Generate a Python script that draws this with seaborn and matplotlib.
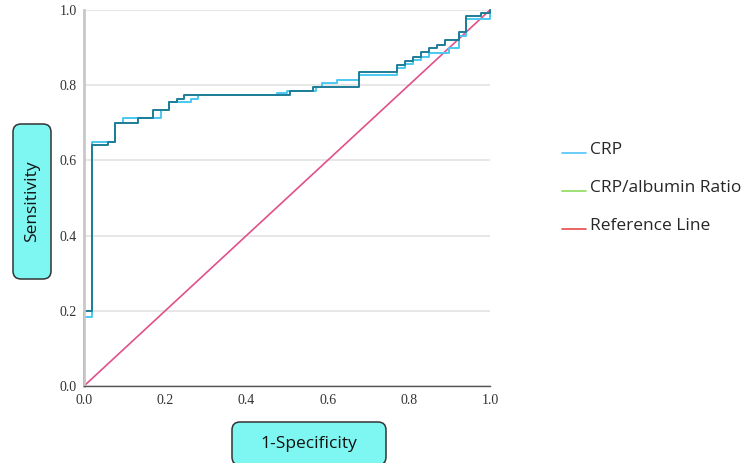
import matplotlib
matplotlib.use('Agg')
import matplotlib.pyplot as plt
import seaborn as sns
import pandas as pd
from matplotlib.lines import Line2D
from matplotlib.patches import FancyBboxPatch
from matplotlib.legend_handler import HandlerLine2D

# ROC points (1-specificity, sensitivity)
crp_fpr = [0, 0, 0.02, 0.076, 0.095, 0.189, 0.209, 0.264, 0.282, 0.475, 0.50, 0.571,
           0.586, 0.622, 0.678, 0.772, 0.791, 0.811, 0.829, 0.850, 0.90, 0.923, 0.942, 1.0, 1.0]
crp_tpr = [0, 0.184, 0.648, 0.70, 0.713, 0.734, 0.754, 0.764, 0.774, 0.78, 0.785, 0.796,
           0.805, 0.815, 0.827, 0.845, 0.856, 0.867, 0.876, 0.885, 0.898, 0.93, 0.977, 0.987, 1.0]

car_fpr = [0, 0, 0.02, 0.058, 0.076, 0.134, 0.171, 0.209, 0.228, 0.246, 0.507, 0.565,
           0.678, 0.772, 0.791, 0.811, 0.829, 0.850, 0.869, 0.889, 0.923, 0.942, 0.979, 1.0]
car_tpr = [0, 0.2, 0.64, 0.65, 0.70, 0.713, 0.734, 0.754, 0.764, 0.774, 0.785, 0.796,
           0.836, 0.853, 0.864, 0.876, 0.887, 0.90, 0.908, 0.92, 0.942, 0.984, 0.993, 1.0]

ref_x = [0, 1]
ref_y = [0, 1]

ticks = [0.0, 0.2, 0.4, 0.6, 0.8, 1.0]
tick_labels = ['0.0', '0.2', '0.4', '0.6', '0.8', '1.0']
legend_labels = ['CRP', 'CRP/albumin Ratio', 'Reference Line']

sns.set_theme(style='white')
plt.rcParams['font.family'] = ['Open Sans', 'DejaVu Sans']

fig = plt.figure(figsize=(7.55, 4.63), dpi=100)
ax = fig.add_axes([84 / 755, 77 / 463, 406 / 755, 376 / 463])

crp = pd.DataFrame({'fpr': crp_fpr, 'tpr': crp_tpr})
car = pd.DataFrame({'fpr': car_fpr, 'tpr': car_tpr})
ref = pd.DataFrame({'fpr': ref_x, 'tpr': ref_y})

sns.lineplot(data=ref, x='fpr', y='tpr', ax=ax, color='#e2508a', lw=1.2,
             sort=False, estimator=None, clip_on=False)
sns.lineplot(data=crp, x='fpr', y='tpr', ax=ax, color='#4cc8f0', lw=1.4,
             sort=False, estimator=None, drawstyle='steps-post', clip_on=False)
sns.lineplot(data=car, x='fpr', y='tpr', ax=ax, color='#1d7d96', lw=1.4,
             sort=False, estimator=None, drawstyle='steps-post', clip_on=False)

ax.set_xlim(0, 1)
ax.set_ylim(0, 1)
ax.set_xticks(ticks)
ax.set_yticks(ticks)
ax.set_xticklabels(tick_labels, family='Liberation Serif', fontsize=10, color='#333333')
ax.set_yticklabels(tick_labels, family='Liberation Serif', fontsize=10, color='#333333')
ax.tick_params(axis='both', length=0)
ax.tick_params(axis='x', pad=6)
ax.tick_params(axis='y', pad=5)
ax.yaxis.grid(True, color='#e3e3e3', lw=1.2)
ax.xaxis.grid(False)
ax.set_axisbelow(True)
ax.set_xlabel('')
ax.set_ylabel('')
for side in ['top', 'right']:
    ax.spines[side].set_visible(False)
ax.spines['left'].set_color('#c8c8c8')
ax.spines['left'].set_linewidth(2)
ax.spines['bottom'].set_color('#555555')
ax.spines['bottom'].set_linewidth(1)


def label_box(x, y, w, h, text, rotation=0):
    # rounded cyan box placed in pixel units
    bax = fig.add_axes([x / 755, (463 - y - h) / 463, w / 755, h / 463])
    bax.set_xlim(0, w)
    bax.set_ylim(0, h)
    bax.axis('off')
    bax.add_patch(FancyBboxPatch((1, 1), w - 2, h - 2,
                                 boxstyle='round,pad=0,rounding_size=8',
                                 facecolor='#7ef6f1', edgecolor='#333333', lw=1.1,
                                 clip_on=False))
    bax.text(w / 2, h / 2, text, ha='center', va='center', rotation=rotation,
             fontsize=12.5, color='#111111')


label_box(12, 123, 40, 157, 'Sensitivity', rotation=90)
label_box(231, 421, 156, 45, '1-Specificity')


class BaselineHandler(HandlerLine2D):
    # put the legend line at the text baseline, like an underscore
    def create_artists(self, legend, orig_handle, xdescent, ydescent,
                       width, height, fontsize, trans):
        arts = super().create_artists(legend, orig_handle, xdescent, ydescent,
                                      width, height, fontsize, trans)
        for a in arts:
            a.set_ydata([v - height * 0.42 for v in a.get_ydata()])
        return arts


handles = [Line2D([], [], color='#4fc3f7', lw=1.2),
           Line2D([], [], color='#8edc5c', lw=1.2),
           Line2D([], [], color='#e84a4a', lw=1.2)]
fig.legend(handles, legend_labels, loc='upper left', bbox_to_anchor=(562 / 755, 1 - 142 / 463),
           frameon=False, fontsize=12.5, handlelength=1.4, handletextpad=0.2,
           labelspacing=1.25, borderpad=0, borderaxespad=0,
           handler_map={Line2D: BaselineHandler()})

fig.savefig('out.png', dpi=100)
